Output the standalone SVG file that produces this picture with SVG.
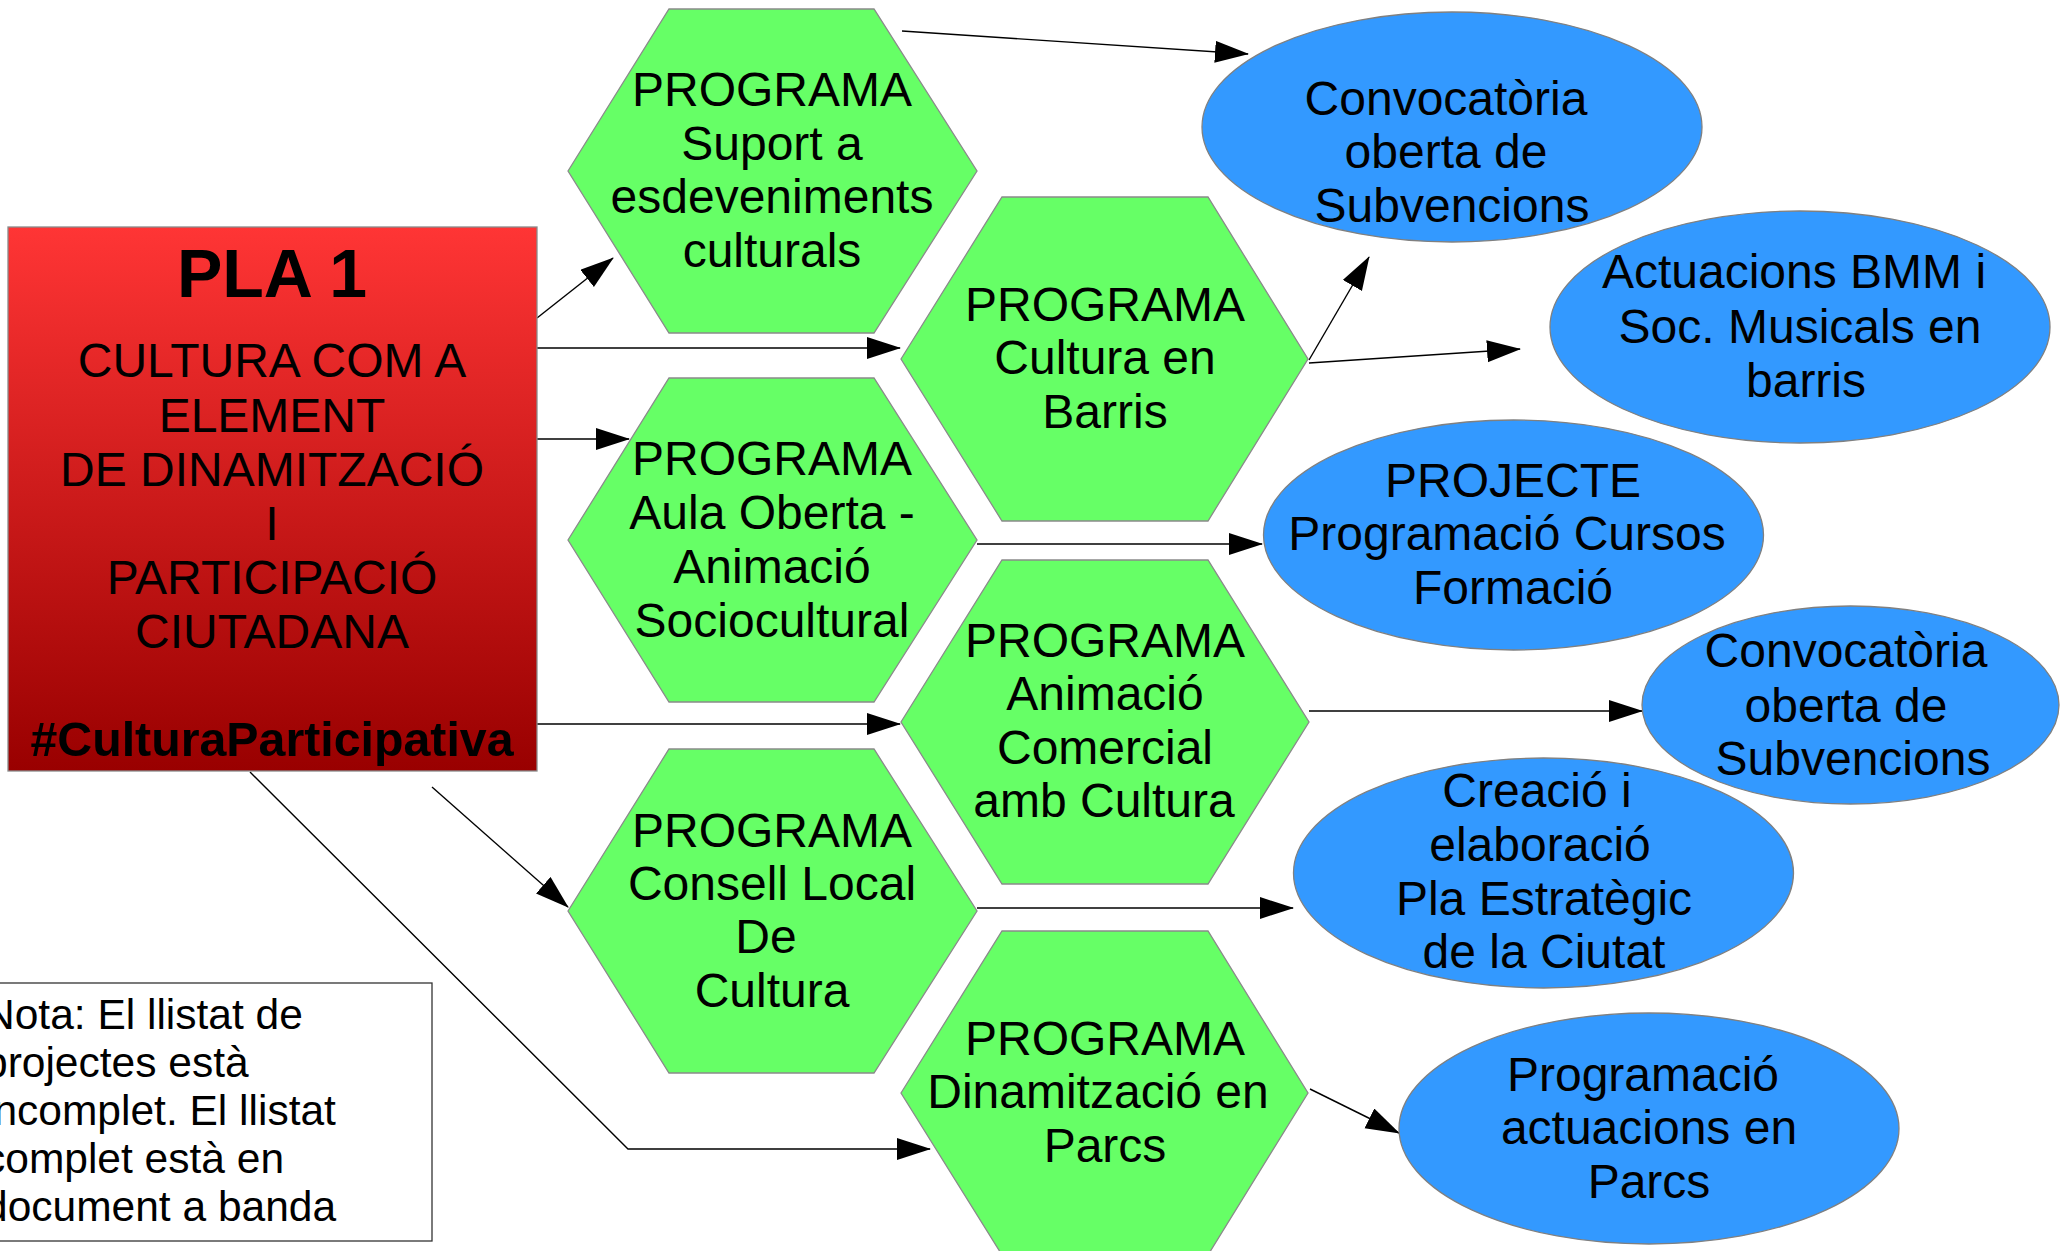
<svg xmlns="http://www.w3.org/2000/svg" width="2060" height="1251" viewBox="0 0 2060 1251">
<defs>
<linearGradient id="redGrad" x1="0" y1="0" x2="0" y2="1">
<stop offset="0" stop-color="#ff3535"/>
<stop offset="1" stop-color="#990000"/>
</linearGradient>
<marker id="arr" markerUnits="userSpaceOnUse" markerWidth="34" markerHeight="24" refX="33" refY="11" orient="auto">
<path d="M0,0 L34,11 L0,22 z" fill="#000"/>
</marker>
</defs>
<style>
text { font-family: "Liberation Sans", Arial, sans-serif; fill: #000; }
.t { font-size: 48px; text-anchor: middle; }
.b { font-weight: bold; text-anchor: middle; }
.hex { fill: #66ff66; stroke: #8a8a8a; stroke-width: 1.3; }
.ell { fill: #3399ff; stroke: #808080; stroke-width: 1.3; }
.con { fill: none; stroke: #000; stroke-width: 1.4; marker-end: url(#arr); }
.note { font-size: 42.5px; }
</style>
<rect width="2060" height="1251" fill="#fff"/>

<g id="connectors">
<line class="con" x1="537" y1="318" x2="613" y2="258"/>
<line class="con" x1="537" y1="348" x2="900" y2="348"/>
<line class="con" x1="537" y1="439" x2="629" y2="439"/>
<line class="con" x1="537" y1="724" x2="900" y2="724"/>
<line class="con" x1="432" y1="787" x2="568" y2="907"/>
<polyline class="con" points="250,772 628,1149 930,1149"/>
<line class="con" x1="902" y1="31" x2="1248" y2="54"/>
<line class="con" x1="1309" y1="360" x2="1369" y2="257"/>
<line class="con" x1="1309" y1="363" x2="1520" y2="349"/>
<line class="con" x1="977" y1="544" x2="1262" y2="544"/>
<line class="con" x1="1309" y1="711" x2="1642" y2="711"/>
<line class="con" x1="977" y1="908" x2="1293" y2="908"/>
<line class="con" x1="1310" y1="1089" x2="1399" y2="1133"/>
</g>

<g id="pla1">
<rect x="8" y="227" width="529" height="544" fill="url(#redGrad)" stroke="#8a8a8a" stroke-width="1.3"/>
<text class="b" x="272" y="297" font-size="68">PLA 1</text>
<text class="t" x="272" y="377">CULTURA COM A</text>
<text class="t" x="272" y="432">ELEMENT</text>
<text class="t" x="272" y="486">DE DINAMITZACIÓ</text>
<text class="t" x="272" y="540">I</text>
<text class="t" x="272" y="594">PARTICIPACIÓ</text>
<text class="t" x="272" y="648">CIUTADANA</text>
<text class="b" x="272" y="756" font-size="48.3">#CulturaParticipativa</text>
</g>

<g id="prog-suport">
<polygon class="hex" points="568,171 669,9 874,9 977,171 874,333 669,333"/>
<text class="t" x="772" y="106">PROGRAMA</text>
<text class="t" x="772" y="160">Suport a</text>
<text class="t" x="772" y="213">esdeveniments</text>
<text class="t" x="772" y="267">culturals</text>
</g>

<g id="prog-barris">
<polygon class="hex" points="901,359 1002,197 1208,197 1308,359 1208,521 1002,521"/>
<text class="t" x="1105" y="321">PROGRAMA</text>
<text class="t" x="1105" y="374">Cultura en</text>
<text class="t" x="1105" y="428">Barris</text>
</g>

<g id="prog-aula">
<polygon class="hex" points="568,540 669,378 874,378 977,540 874,702 669,702"/>
<text class="t" x="772" y="475">PROGRAMA</text>
<text class="t" x="772" y="529">Aula Oberta -</text>
<text class="t" x="772" y="583">Animació</text>
<text class="t" x="772" y="637">Sociocultural</text>
</g>

<g id="prog-comercial">
<polygon class="hex" points="901,722 1002,560 1208,560 1309,722 1208,884 1002,884"/>
<text class="t" x="1105" y="657">PROGRAMA</text>
<text class="t" x="1105" y="710">Animació</text>
<text class="t" x="1105" y="764">Comercial</text>
<text class="t" x="1104" y="817">amb Cultura</text>
</g>

<g id="prog-consell">
<polygon class="hex" points="568,911 669,749 874,749 977,911 874,1073 669,1073"/>
<text class="t" x="772" y="847">PROGRAMA</text>
<text class="t" x="772" y="900">Consell Local</text>
<text class="t" x="766" y="953">De</text>
<text class="t" x="772" y="1007">Cultura</text>
</g>

<g id="prog-parcs">
<polygon class="hex" points="901,1093 1002,931 1208,931 1308,1093 1208,1255 1002,1255"/>
<text class="t" x="1105" y="1055">PROGRAMA</text>
<text class="t" x="1098" y="1108">Dinamització en</text>
<text class="t" x="1105" y="1162">Parcs</text>
</g>

<g id="conv-1">
<ellipse class="ell" cx="1452" cy="127" rx="250" ry="115"/>
<text class="t" x="1446" y="115">Convocatòria</text>
<text class="t" x="1446" y="168">oberta de</text>
<text class="t" x="1452" y="222">Subvencions</text>
</g>

<g id="actuacions-bmm">
<ellipse class="ell" cx="1800" cy="327" rx="250" ry="116"/>
<text class="t" x="1794" y="288">Actuacions BMM i</text>
<text class="t" x="1800" y="343">Soc. Musicals en</text>
<text class="t" x="1806" y="397">barris</text>
</g>

<g id="projecte-cursos">
<ellipse class="ell" cx="1513.5" cy="535" rx="250" ry="115"/>
<text class="t" x="1513" y="497">PROJECTE</text>
<text class="t" x="1507" y="550">Programació Cursos</text>
<text class="t" x="1513" y="604">Formació</text>
</g>

<g id="conv-2">
<ellipse class="ell" cx="1850.5" cy="705" rx="208.5" ry="99"/>
<text class="t" x="1846" y="667">Convocatòria</text>
<text class="t" x="1846" y="722">oberta de</text>
<text class="t" x="1853" y="775">Subvencions</text>
</g>

<g id="pla-estrategic">
<ellipse class="ell" cx="1543.5" cy="873" rx="250" ry="115"/>
<text class="t" x="1537" y="807">Creació i</text>
<text class="t" x="1540" y="861">elaboració</text>
<text class="t" x="1544" y="915">Pla Estratègic</text>
<text class="t" x="1544" y="968">de la Ciutat</text>
</g>

<g id="actuacions-parcs">
<ellipse class="ell" cx="1649" cy="1128.5" rx="250" ry="115.5"/>
<text class="t" x="1643" y="1091">Programació</text>
<text class="t" x="1649" y="1144">actuacions en</text>
<text class="t" x="1649" y="1198">Parcs</text>
</g>

<g id="nota">
<rect x="-30" y="983" width="462" height="258" fill="#fff" stroke="#333" stroke-width="1.3"/>
<text class="note" x="-16" y="1029">Nota: El llistat de</text>
<text class="note" x="-16" y="1077">projectes està</text>
<text class="note" x="-16" y="1125">incomplet. El llistat</text>
<text class="note" x="-16" y="1173">complet està en</text>
<text class="note" x="-16" y="1221">document a banda</text>
</g>
</svg>
